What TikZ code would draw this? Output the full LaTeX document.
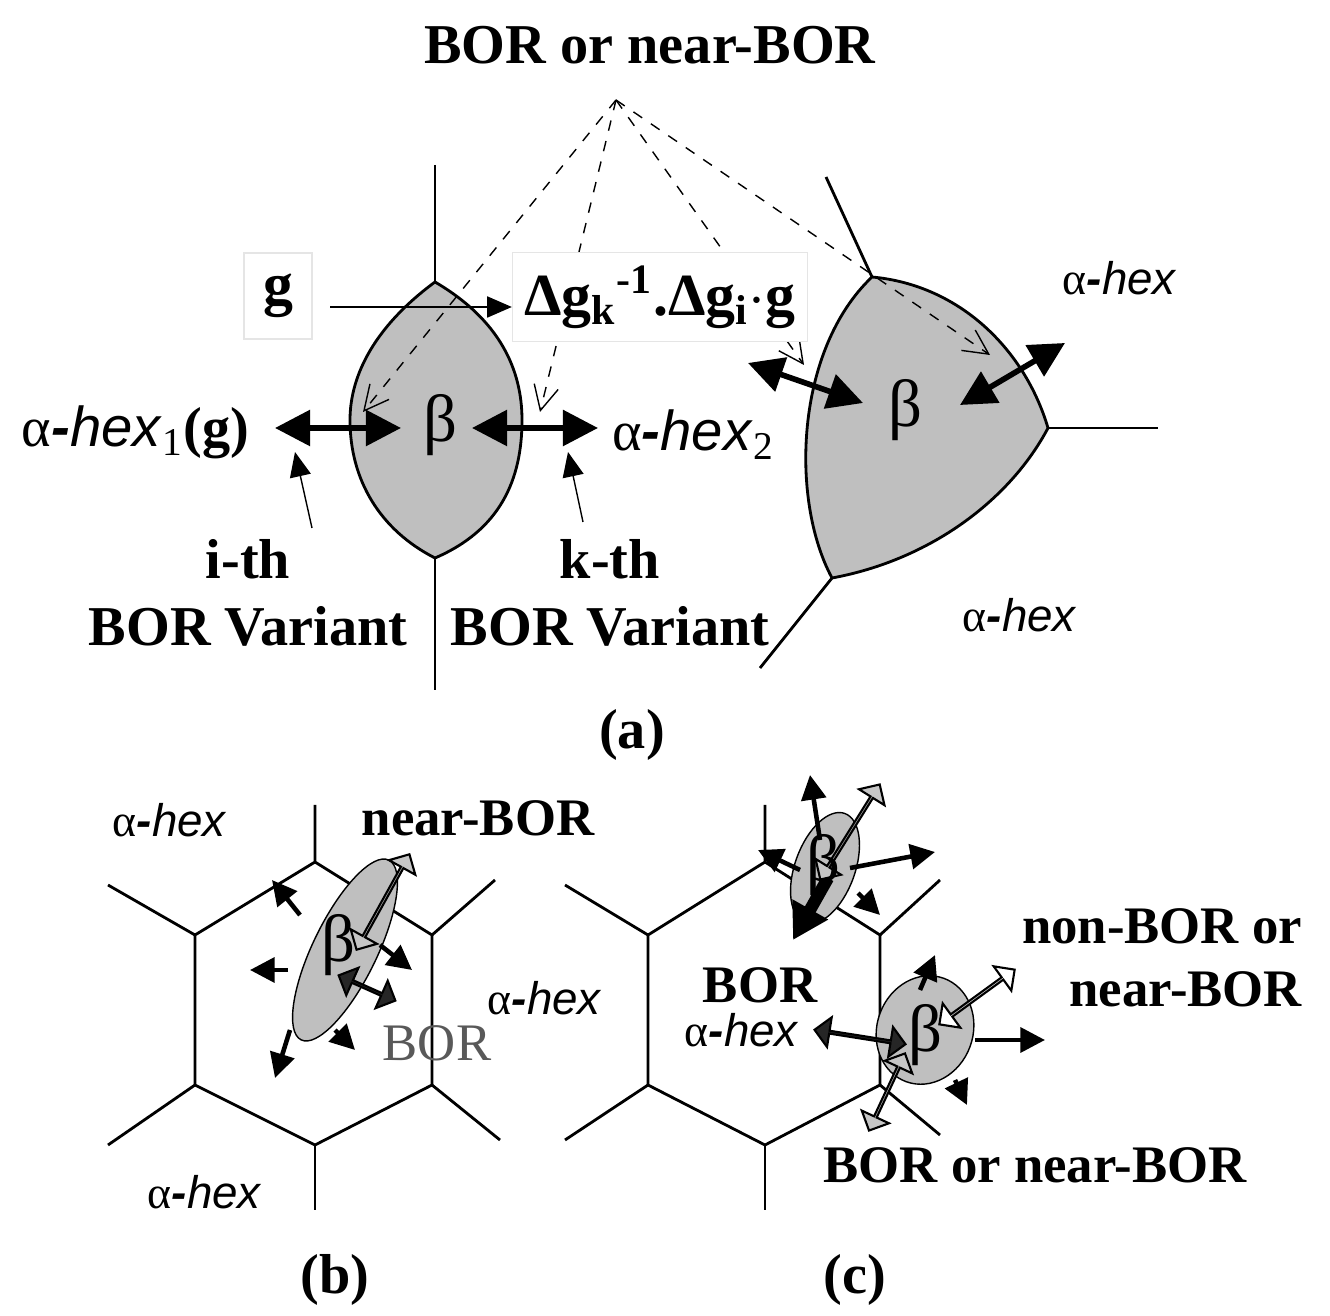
\documentclass[tikz,border=0pt]{standalone}
\usepackage{fontspec}
\setmainfont{Liberation Serif}
\newfontfamily\hexfont{Liberation Sans}
\usetikzlibrary{arrows.meta,shapes.arrows}
\newcommand{\ahex}{α{\hexfont\textit{\textbf{-}hex}}}
\tikzset{
  bordash/.style = {dashed, thin, -{Straight Barb[length=7pt,width=7pt]}},
  fat/.style = {line width=1.6pt, {Triangle[length=10pt,width=10pt]}-{Triangle[length=10pt,width=10pt]}},
  outarr/.style = {line width=1.3pt, -{Triangle[length=7pt,width=7pt]}},
  bigarr/.style = {double arrow, draw, line width=0.6pt, minimum width=0.3cm,
    double arrow head extend=0.1cm, inner sep=0pt}
}
\begin{document}
\begin{tikzpicture}[x=0.01cm, y=0.01cm]
\useasboundingbox (0,0) rectangle (1330,-1316);
% (a)
\draw[thick] (435,-165) -- (435,-282);
\draw[thick] (435,-558) -- (435,-690);
\draw[thick, fill=gray!50] (435,-282) .. controls (370,-330) and (350,-380) .. (350,-420)
  .. controls (350,-480) and (380,-530) .. (435,-558)
  .. controls (500,-530) and (522,-480) .. (522,-420)
  .. controls (522,-370) and (500,-320) .. (435,-282);
\draw[thick] (826,-177) -- (872,-277);
\draw[thick] (1048,-428) -- (1158,-428);
\draw[thick] (832,-578) -- (760,-668);
\draw[thick, fill=gray!50] (872,-277) .. controls (960,-285) and (1025,-350) .. (1048,-428)
  .. controls (1010,-500) and (930,-560) .. (832,-578)
  .. controls (790,-500) and (795,-350) .. (872,-277);
\node[font=\fontsize{16}{19}\selectfont\bfseries] (top) at (650,-45) {BOR or near-BOR};
\coordinate (apex) at (616,-100);
\draw[bordash] (apex) -- (363,-412);
\draw[bordash] (apex) -- (540,-412);
\draw[bordash] (apex) -- (804,-365);
\draw[bordash] (apex) -- (990,-355);
\node[draw=gray!20, fill=white, minimum width=0.68cm, minimum height=0.86cm, font=\fontsize{17}{19}\selectfont\bfseries] (g) at (278,-296) {g};
\node[draw=gray!20, fill=white, minimum width=2.79cm, minimum height=0.89cm, font=\fontsize{17}{19}\selectfont\bfseries] (dg) at (660,-297) {Δg\textsubscript{k}\textsuperscript{-1}.Δg\textsubscript{i}$\cdot$g};
\draw[-{Triangle[length=7pt,width=6pt]}] (330,-307) -- (dg.west |- 0,-307);
\node[font=\fontsize{19}{21}\selectfont] (b1) at (440,-425) {β};
\node[font=\fontsize{19}{21}\selectfont] (b2) at (905,-410) {β};
\draw[fat] (275,-428) -- (401,-428);
\draw[fat] (472,-428) -- (598,-428);
\draw[fat] (748,-363) -- (863,-403);
\draw[fat] (1065,-343) -- (960,-405);
\node[font=\fontsize{16}{19}\selectfont, anchor=east] (h1) at (262,-432) {\ahex\textsubscript{1}\textbf{(g)}};
\node[font=\fontsize{16}{19}\selectfont, anchor=west] (h2) at (600,-435) {\ahex\textsubscript{2}};
\node[font=\fontsize{13}{16}\selectfont] (h3) at (1120,-278) {\ahex};
\node[font=\fontsize{13}{16}\selectfont] (h4) at (1020,-615) {\ahex};
\node[font=\fontsize{16}{19}\selectfont\bfseries, align=center] (iv) at (248,-593) {i-th\\BOR Variant};
\node[font=\fontsize{16}{19}\selectfont\bfseries, align=center] (kv) at (610,-593) {k-th\\BOR Variant};
\draw[-{Triangle[length=7pt,width=6pt]}] (312,-528) -- (295,-452);
\draw[-{Triangle[length=7pt,width=6pt]}] (583,-522) -- (568,-452);
\node[font=\fontsize{16}{19}\selectfont\bfseries] (la) at (632,-735) {(a)};
% (b)
\draw[thick] (315,-805) -- (315,-862) -- (432,-935) -- (432,-1085) -- (315,-1145) -- (195,-1085) -- (195,-935) -- (315,-862);
\draw[thick] (108,-885) -- (195,-935); \draw[thick] (432,-935) -- (495,-880);
\draw[thick] (108,-1145) -- (195,-1085); \draw[thick] (432,-1085) -- (500,-1140);
\draw[thick] (315,-1145) -- (315,-1210);
\draw[fill=gray!50, rotate around={64:(345,-950)}] (345,-950) ellipse [x radius=100, y radius=32];
\draw[outarr] (288,-970) -- (250,-970);
\draw[outarr] (300,-915) -- (272,-880);
\draw[outarr] (380,-945) -- (412,-970);
\draw[outarr] (290,-1030) -- (275,-1078);
\draw[outarr] (335,-1030) -- (355,-1050);
\node[bigarr, fill=gray!45, minimum height=1.09cm, rotate=61] (nb) at (383,-902) {};
\node[bigarr, fill=black!85, minimum height=0.62cm, rotate=-24] (bo) at (367,-988) {};
\node[font=\fontsize{19}{21}\selectfont] (bb) at (338,-945) {β};
\node[font=\fontsize{13}{16}\selectfont] (hb1) at (170,-820) {\ahex};
\node[font=\fontsize{15}{18}\selectfont\bfseries] (nbl) at (478,-818) {near-BOR};
\node[font=\fontsize{13}{16}\selectfont] (hb2) at (545,-998) {\ahex};
\node[font=\fontsize{15}{18}\selectfont, text=gray!70!black] (bor) at (437,-1043) {BOR};
\node[font=\fontsize{13}{16}\selectfont] (hb3) at (205,-1192) {\ahex};
\node[font=\fontsize{16}{19}\selectfont\bfseries] (lb) at (335,-1280) {(b)};
% (c)
\draw[thick] (765,-805) -- (765,-862) -- (880,-935) -- (880,-1085) -- (765,-1145) -- (648,-1085) -- (648,-935) -- (765,-862);
\draw[thick] (565,-885) -- (648,-935); \draw[thick] (880,-935) -- (940,-880);
\draw[thick] (565,-1140) -- (648,-1085); \draw[thick] (880,-1085) -- (940,-1135);
\draw[thick] (765,-1145) -- (765,-1210);
\draw[fill=gray!50, rotate around={70:(825,-868)}] (825,-868) ellipse [x radius=58, y radius=30];
\draw[fill=gray!50, rotate around={70:(925,-1030)}] (925,-1030) ellipse [x radius=55, y radius=48];
\draw[outarr] (820,-840) -- (810,-775);
\draw[outarr] (800,-870) -- (758,-850);
\draw[outarr] (850,-868) -- (935,-852);
\draw[outarr] (858,-893) -- (880,-915);
\draw[line width=3.5pt, -{Triangle[length=10pt,width=11pt]}] (828,-878) -- (793,-940);
\draw[outarr] (920,-990) -- (935,-955);
\draw[outarr] (975,-1040) -- (1045,-1040);
\draw[outarr] (955,-1080) -- (967,-1105);
\node[bigarr, fill=gray!45, minimum height=1.12cm, rotate=58] (nc) at (850,-832) {};
\node[bigarr, fill=white, minimum height=0.93cm, rotate=36] (wc) at (977,-997) {};
\node[bigarr, fill=gray!45, minimum height=0.85cm, rotate=65] (gc) at (887,-1092) {};
\node[bigarr, fill=black!85, minimum height=0.92cm, rotate=-9] (bc) at (860,-1037) {};
\node[font=\fontsize{19}{21}\selectfont] (bc1) at (823,-865) {β};
\node[font=\fontsize{19}{21}\selectfont] (bc2) at (925,-1035) {β};
\node[font=\fontsize{15}{18}\selectfont\bfseries] (borc) at (760,-985) {BOR};
\node[font=\fontsize{13}{16}\selectfont] (hc) at (742,-1030) {\ahex};
\node[font=\fontsize{15}{18}\selectfont\bfseries, align=right] (nonb) at (1162,-958) {non-BOR or\\near-BOR};
\node[font=\fontsize{15}{18}\selectfont\bfseries] (bonb) at (1035,-1165) {BOR or near-BOR};
\node[font=\fontsize{16}{19}\selectfont\bfseries] (lc) at (855,-1280) {(c)};
\end{tikzpicture}
\end{document}
